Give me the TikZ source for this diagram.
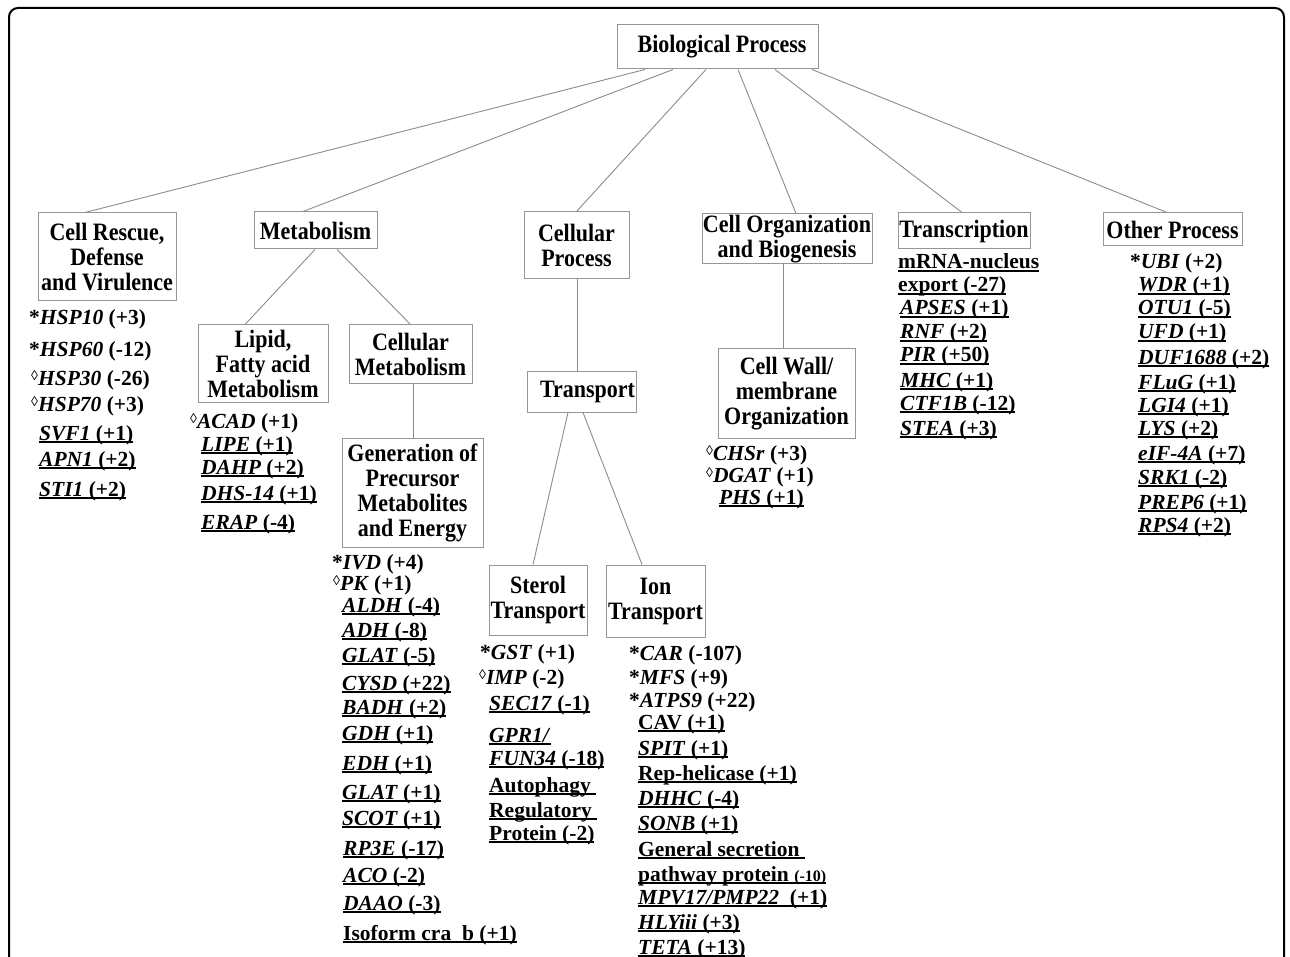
\documentclass[tikz,border=0pt]{standalone}
\usepackage{fontspec}
\setmainfont{Liberation Serif}
\newfontfamily\boxfont{Liberation Serif}[FakeStretch=0.88]
\definecolor{boxgray}{RGB}{150,150,150}
\definecolor{linegray}{RGB}{140,140,140}
\newcommand\gi[1]{\textit{#1}}
\newcommand\ulx[1]{\setbox0\hbox{#1}\rlap{\rule[-2.8pt]{\wd0}{1.4pt}}\box0}
\newcommand\dia{\raisebox{4.5pt}{\fontsize{14}{14}\selectfont ◊}}
\tikzset{
  box/.style={draw=boxgray, line width=1pt, inner sep=0pt, align=center, font=\boxfont\fontsize{25}{25}\selectfont\bfseries},
  item/.style={anchor=base west, inner sep=0pt, font=\fontsize{21.5}{24}\selectfont\bfseries},
  link/.style={draw=linegray, line width=0.9pt},
}
\begin{document}
\begin{tikzpicture}[x=1pt,y=-1pt]
\useasboundingbox (0,0) rectangle (1290,957);
\clip (0,0) rectangle (1290,957);
\fill[white] (0,0) rectangle (1290,957);
\draw[line width=2pt, rounded corners=9pt] (9,1000) -- (9,8) -- (1284,8) -- (1284,1000);

% boxes
\node[box, minimum width=201pt, minimum height=44pt] (root) at (717.5,47) {\hspace*{9pt}Biological Process};
\node[box, minimum width=138pt, minimum height=88pt] (cr) at (107,257) {Cell Rescue,\\Defense\\and Virulence};
\node[box, minimum width=123pt, minimum height=37pt] (met) at (315.5,230.5) {Metabolism};
\node[box, minimum width=105pt, minimum height=67pt] (cp) at (576.5,245.5) {Cellular\\Process};
\node[box, minimum width=170pt, minimum height=50pt] (co) at (787,239) {Cell Organization\\and Biogenesis};
\node[box, minimum width=132pt, minimum height=36pt] (tr) at (964,231) {Transcription};
\node[box, minimum width=139pt, minimum height=33pt] (op) at (1172.5,229.5) {Other Process};
\node[box, minimum width=130pt, minimum height=77pt] (lip) at (263,363.5) {Lipid,\\Fatty acid\\Metabolism};
\node[box, minimum width=123pt, minimum height=58pt] (cm) at (410.5,354) {Cellular\\Metabolism};
\node[box, minimum width=141pt, minimum height=109pt] (gen) at (412.5,492.5) {Generation of\\Precursor\\Metabolites\\and Energy};
\node[box, minimum width=109pt, minimum height=40pt] (tp) at (581.5,392) {\hspace*{12pt}Transport};
\node[box, minimum width=98pt, minimum height=70pt] (st) at (538,600) {Sterol\\Transport};
\node[box, minimum width=99pt, minimum height=72pt] (ion) at (655.5,601) {Ion\\Transport};
\node[box, minimum width=137pt, minimum height=89pt] (cw) at (786.5,393.5) {Cell Wall/\\membrane\\Organization};

% connectors
\draw[link] ([xshift=-72.5pt]root.south) -- ([xshift=-22pt]cr.north);
\draw[link] ([xshift=-44.5pt]root.south) -- ([xshift=-12.5pt]met.north);
\draw[link] ([xshift=-11.5pt]root.south) -- (cp.north);
\draw[link] ([xshift=20.5pt]root.south) -- ([xshift=9pt]co.north);
\draw[link] ([xshift=57.5pt]root.south) -- ([xshift=-2pt]tr.north);
\draw[link] ([xshift=94.5pt]root.south) -- ([xshift=-5.5pt]op.north);
\draw[link] ([xshift=-0.5pt]met.south) -- ([xshift=-18pt]lip.north);
\draw[link] ([xshift=21.5pt]met.south) -- (cm.north);
\draw[link] ([xshift=2.5pt]cm.south) -- ([xshift=0.5pt]gen.north);
\draw[link] ([xshift=0.5pt]cp.south) -- ([xshift=-4.5pt]tp.north);
\draw[link] ([xshift=-13.5pt]tp.south) -- ([xshift=-5pt]st.north);
\draw[link] ([xshift=1.5pt]tp.south) -- ([xshift=-13.5pt]ion.north);
\draw[link] ([xshift=-4pt]co.south) -- ([xshift=-3.5pt]cw.north);

% Cell Rescue list
\node[item] (cr1) at (29,325) {*\gi{HSP10} (+3)};
\node[item] (cr2) at (29,357) {*\gi{HSP60} (-12)};
\node[item] (cr3) at (31,385) {\dia\gi{HSP30} (-26)};
\node[item] (cr4) at (31,411) {\dia\gi{HSP70} (+3)};
\node[item] (cr5) at (39,440) {\ulx{\gi{SVF1} (+1)}};
\node[item] (cr6) at (39,466) {\ulx{\gi{APN1} (+2)}};
\node[item] (cr7) at (39,496) {\ulx{\gi{STI1} (+2)}};

% Lipid list
\node[item] (lp1) at (190,428) {\dia\gi{ACAD} (+1)};
\node[item] (lp2) at (201,451) {\ulx{\gi{LIPE} (+1)}};
\node[item] (lp3) at (201,474) {\ulx{\gi{DAHP} (+2)}};
\node[item] (lp4) at (201,500) {\ulx{\gi{DHS-14} (+1)}};
\node[item] (lp5) at (201,529) {\ulx{\gi{ERAP} (-4)}};

% Generation list
\node[item] (g1) at (332,569) {*\gi{IVD} (+4)};
\node[item] (g2) at (333,590) {\dia\gi{PK} (+1)};
\node[item] (g3) at (342,612) {\ulx{\gi{ALDH} (-4)}};
\node[item] (g4) at (342,637) {\ulx{\gi{ADH} (-8)}};
\node[item] (g5) at (342,662) {\ulx{\gi{GLAT} (-5)}};
\node[item] (g6) at (342,690) {\ulx{\gi{CYSD} (+22)}};
\node[item] (g7) at (342,714) {\ulx{\gi{BADH} (+2)}};
\node[item] (g8) at (342,740) {\ulx{\gi{GDH} (+1)}};
\node[item] (g9) at (342,770) {\ulx{\gi{EDH} (+1)}};
\node[item] (g10) at (342,799) {\ulx{\gi{GLAT} (+1)}};
\node[item] (g11) at (342,825) {\ulx{\gi{SCOT} (+1)}};
\node[item] (g12) at (343,855) {\ulx{\gi{RP3E} (-17)}};
\node[item] (g13) at (343,882) {\ulx{\gi{ACO} (-2)}};
\node[item] (g14) at (343,910) {\ulx{\gi{DAAO} (-3)}};
\node[item] (g15) at (343,940) {\ulx{Isoform cra\_b (+1)}};

% Sterol list
\node[item] (s1) at (480,659) {*\gi{GST} (+1)};
\node[item] (s2) at (479,684) {\dia\gi{IMP} (-2)};
\node[item] (s3) at (489,710) {\ulx{\gi{SEC17} (-1)}};
\node[item] (s4) at (489,742) {\ulx{\gi{GPR1/}}};
\node[item] (s5) at (489,765) {\ulx{\gi{FUN34} (-18)}};
\node[item] (s6) at (489,792) {\ulx{Autophagy }};
\node[item] (s7) at (489,817) {\ulx{Regulatory }};
\node[item] (s8) at (489,840) {\ulx{Protein (-2)}};

% Ion list
\node[item] (i1) at (629,660) {*\gi{CAR} (-107)};
\node[item] (i2) at (629,684) {*\gi{MFS} (+9)};
\node[item] (i3) at (629,707) {*\gi{ATPS9} (+22)};
\node[item] (i4) at (638,729) {\ulx{CAV (+1)}};
\node[item] (i5) at (638,755) {\ulx{\gi{SPIT} (+1)}};
\node[item] (i6) at (638,780) {\ulx{Rep-helicase (+1)}};
\node[item] (i7) at (638,805) {\ulx{\gi{DHHC} (-4)}};
\node[item] (i8) at (638,830) {\ulx{\gi{SONB} (+1)}};
\node[item] (i9) at (638,856) {\ulx{General secretion }};
\node[item] (i10) at (638,881) {\ulx{pathway protein {\fontsize{16}{16}\selectfont(-10)}}};
\node[item] (i11) at (638,904) {\ulx{\gi{MPV17/PMP22}\ \ (+1)}};
\node[item] (i12) at (638,929) {\ulx{\gi{HLYiii} (+3)}};
\node[item] (i13) at (638,954) {\ulx{\gi{TETA} (+13)}};

% Cell wall list
\node[item] (w1) at (706,460) {\dia\gi{CHSr} (+3)};
\node[item] (w2) at (706,482) {\dia\gi{DGAT} (+1)};
\node[item] (w3) at (719,504) {\ulx{\gi{PHS} (+1)}};

% Transcription list
\node[item] (t1) at (898,269) {\ulx{mRNA-nucleus}};
\node[item] (t2) at (898,292) {\ulx{export (-27)}};
\node[item] (t3) at (900,315) {\ulx{\gi{APSES} (+1)}};
\node[item] (t4) at (900,339) {\ulx{\gi{RNF} (+2)}};
\node[item] (t5) at (900,362) {\ulx{\gi{PIR} (+50)}};
\node[item] (t6) at (900,387) {\ulx{\gi{MHC} (+1)}};
\node[item] (t7) at (900,410) {\ulx{\gi{CTF1B} (-12)}};
\node[item] (t8) at (900,435) {\ulx{\gi{STEA} (+3)}};

% Other list
\node[item] (o1) at (1130,269) {*\gi{UBI} (+2)};
\node[item] (o2) at (1138,292) {\ulx{\gi{WDR} (+1)}};
\node[item] (o3) at (1138,315) {\ulx{\gi{OTU1} (-5)}};
\node[item] (o4) at (1138,339) {\ulx{\gi{UFD} (+1)}};
\node[item] (o5) at (1138,364) {\ulx{\gi{DUF1688} (+2)}};
\node[item] (o6) at (1138,389) {\ulx{\gi{FLuG} (+1)}};
\node[item] (o7) at (1138,412) {\ulx{\gi{LGI4} (+1)}};
\node[item] (o8) at (1138,435) {\ulx{\gi{LYS} (+2)}};
\node[item] (o9) at (1138,460) {\ulx{\gi{eIF-4A} (+7)}};
\node[item] (o10) at (1138,484) {\ulx{\gi{SRK1} (-2)}};
\node[item] (o11) at (1138,509) {\ulx{\gi{PREP6} (+1)}};
\node[item] (o12) at (1138,532) {\ulx{\gi{RPS4} (+2)}};
\end{tikzpicture}
\end{document}
